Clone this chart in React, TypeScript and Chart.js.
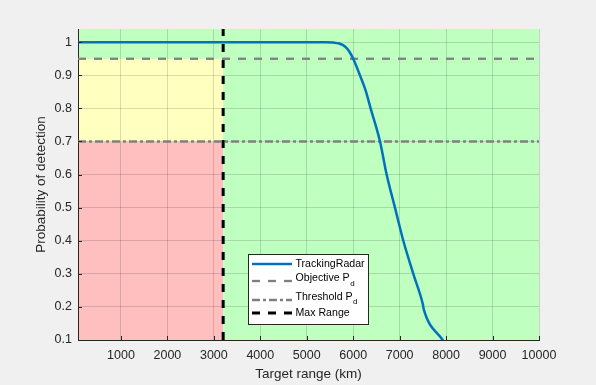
import React, { useEffect, useRef } from 'react';
import { Chart, registerables } from 'chart.js';

Chart.register(...registerables);

// ---- Data ----
const rangeKm = [75, 1000, 2000, 3000, 4000, 5000, 5400, 5570, 5700, 5823, 5915, 6000, 6145, 6275, 6375, 6577, 6720, 6899, 7079, 7294, 7496, 7524, 7926, 8150];
const trackingPd = [1, 1, 1, 1, 1, 1, 1, 0.999, 0.996, 0.987, 0.972, 0.95, 0.9, 0.851, 0.8, 0.7, 0.6, 0.5, 0.4, 0.3, 0.21, 0.19, 0.1, 0.05];
const objectivePd = 0.95;
const thresholdPd = 0.7;
const maxRangeKm = 3200;
const xLimits = [75, 10000];
const yLimits = [0.1, 1.04];
const xTicks = [1000, 2000, 3000, 4000, 5000, 6000, 7000, 8000, 9000, 10000];
const yTicks = [0.1, 0.2, 0.3, 0.4, 0.5, 0.6, 0.7, 0.8, 0.9, 1];
const seriesLabels = ['TrackingRadar', 'Objective P_d', 'Threshold P_d', 'Max Range'];
const xLabel = 'Target range (km)';
const yLabel = 'Probability of detection';

const FONT = '"Liberation Sans", Arial, sans-serif';
const TEXT = '#262626';

const zonePlugin = {
  id: 'zones',
  beforeDraw(chart: any) {
    const { ctx, scales } = chart;
    const x = scales.x, y = scales.y;
    ctx.save();
    ctx.fillStyle = '#F0F0F0';
    ctx.fillRect(0, 0, chart.width, chart.height);
    const rect = (x0: number, x1: number, y0: number, y1: number, c: string) => {
      const px0 = x.getPixelForValue(x0), px1 = x.getPixelForValue(x1);
      const py0 = y.getPixelForValue(y0), py1 = y.getPixelForValue(y1);
      ctx.fillStyle = c;
      ctx.fillRect(px0, py1, px1 - px0, py0 - py1);
    };
    rect(xLimits[0], maxRangeKm, yLimits[0], thresholdPd, '#FFBFBF');
    rect(xLimits[0], maxRangeKm, thresholdPd, objectivePd, '#FFFFBF');
    rect(xLimits[0], maxRangeKm, objectivePd, yLimits[1], '#BFFFBF');
    rect(maxRangeKm, xLimits[1], yLimits[0], yLimits[1], '#BFFFBF');
    ctx.restore();
  },
};

const tickPlugin = {
  id: 'inTicks',
  afterDatasetsDraw(chart: any) {
    const { ctx, chartArea, scales } = chart;
    ctx.save();
    ctx.strokeStyle = TEXT;
    ctx.lineWidth = 1;
    ctx.beginPath();
    scales.y.ticks.forEach((t: any) => {
      const py = Math.round(scales.y.getPixelForValue(t.value)) + 0.5;
      ctx.moveTo(chartArea.left, py);
      ctx.lineTo(chartArea.left + 4, py);
    });
    scales.x.ticks.forEach((t: any) => {
      const px = Math.round(scales.x.getPixelForValue(t.value)) + 0.5;
      ctx.moveTo(px, chartArea.bottom);
      ctx.lineTo(px, chartArea.bottom - 4);
    });
    ctx.stroke();
    ctx.restore();
  },
};

const legendPlugin = {
  id: 'customLegend',
  afterDraw(chart: any) {
    const { ctx } = chart;
    const boxL = 248.5, boxT = 254.5, boxW = 120, boxH = 70;
    const lineY = [264, 281, 300, 313];
    const textY = [264, 278.5, 297, 313];
    ctx.save();
    ctx.fillStyle = '#FFFFFF';
    ctx.fillRect(boxL, boxT, boxW, boxH);
    ctx.strokeStyle = '#262626';
    ctx.lineWidth = 1;
    ctx.setLineDash([]);
    ctx.strokeRect(boxL, boxT, boxW, boxH);
    chart.data.datasets.forEach((ds: any, i: number) => {
      ctx.beginPath();
      ctx.strokeStyle = ds.borderColor;
      ctx.lineWidth = ds.borderWidth;
      ctx.setLineDash(ds.borderDash || []);
      ctx.moveTo(252, lineY[i]);
      ctx.lineTo(292, lineY[i]);
      ctx.stroke();
      ctx.setLineDash([]);
      const parts = String(ds.label).split('_');
      ctx.fillStyle = '#000000';
      ctx.textBaseline = 'middle';
      ctx.textAlign = 'left';
      ctx.font = `10.6px ${FONT}`;
      ctx.fillText(parts[0], 295.5, textY[i]);
      if (parts[1]) {
        const w = ctx.measureText(parts[0]).width;
        ctx.font = `8px ${FONT}`;
        ctx.fillText(parts[1], 295.5 + w + 0.5, textY[i] + 5);
      }
    });
    ctx.restore();
  },
};

export default function App() {
  const ref = useRef<HTMLCanvasElement>(null);
  useEffect(() => {
    document.body.style.margin = '0';
    const canvas = ref.current!;
    const chart = new Chart(canvas, {
      type: 'line',
      data: {
        datasets: [
          {
            label: seriesLabels[0],
            data: rangeKm.map((x, i) => ({ x, y: trackingPd[i] })),
            borderColor: '#0072BD',
            borderWidth: 2.5,
            pointRadius: 0,
            cubicInterpolationMode: 'monotone',
            clip: 0,
          },
          {
            label: seriesLabels[1],
            data: [{ x: xLimits[0], y: objectivePd }, { x: xLimits[1], y: objectivePd }],
            borderColor: '#808080',
            borderWidth: 2.3,
            borderDash: [8, 8],
            pointRadius: 0,
          },
          {
            label: seriesLabels[2],
            data: [{ x: xLimits[0], y: thresholdPd }, { x: xLimits[1], y: thresholdPd }],
            borderColor: '#808080',
            borderWidth: 2.3,
            borderDash: [8, 3, 3, 3],
            pointRadius: 0,
          },
          {
            label: seriesLabels[3],
            data: [{ x: maxRangeKm, y: yLimits[0] }, { x: maxRangeKm, y: yLimits[1] }],
            borderColor: '#000000',
            borderWidth: 3,
            borderDash: [8, 8],
            pointRadius: 0,
          },
        ] as any,
      },
      options: {
        responsive: false,
        animation: false,
        layout: { padding: { left: 0, right: 57, top: 29, bottom: 0 } },
        plugins: { legend: { display: false }, tooltip: { enabled: false } },
        scales: {
          x: {
            type: 'linear',
            min: xLimits[0],
            max: xLimits[1],
            afterBuildTicks: (s: any) => { s.ticks = xTicks.map((v) => ({ value: v })); },
            afterFit: (s: any) => { s.height = 45; },
            grid: { color: 'rgba(0,0,0,0.14)', drawTicks: false },
            border: { display: true, color: TEXT, width: 1 },
            ticks: { color: TEXT, font: { family: FONT, size: 12.5 }, padding: 8, maxRotation: 0, autoSkip: false, callback: (v: any) => String(v) },
            title: { display: true, text: xLabel, color: TEXT, font: { family: FONT, size: 13.5 }, padding: { top: 3, bottom: 3 } },
          },
          y: {
            type: 'linear',
            min: yLimits[0],
            max: yLimits[1],
            afterBuildTicks: (s: any) => { s.ticks = yTicks.map((v) => ({ value: v })); },
            afterFit: (s: any) => { s.width = 78; },
            grid: { color: 'rgba(0,0,0,0.14)', drawTicks: false },
            border: { display: true, color: TEXT, width: 1 },
            ticks: { color: TEXT, font: { family: FONT, size: 12.5 }, padding: 6, autoSkip: false, callback: (v: any) => String(Math.round(v * 10) / 10) },
            title: { display: true, text: yLabel, color: TEXT, font: { family: FONT, size: 13.5 }, padding: { top: 33, bottom: 33 } },
          },
        },
      } as any,
      plugins: [zonePlugin, tickPlugin, legendPlugin],
    });
    return () => chart.destroy();
  }, []);
  return (
    <div style={{ width: 596, height: 385, background: '#F0F0F0' }}>
      <canvas ref={ref} width={596} height={385} style={{ display: 'block', width: 596, height: 385 }} />
    </div>
  );
}
